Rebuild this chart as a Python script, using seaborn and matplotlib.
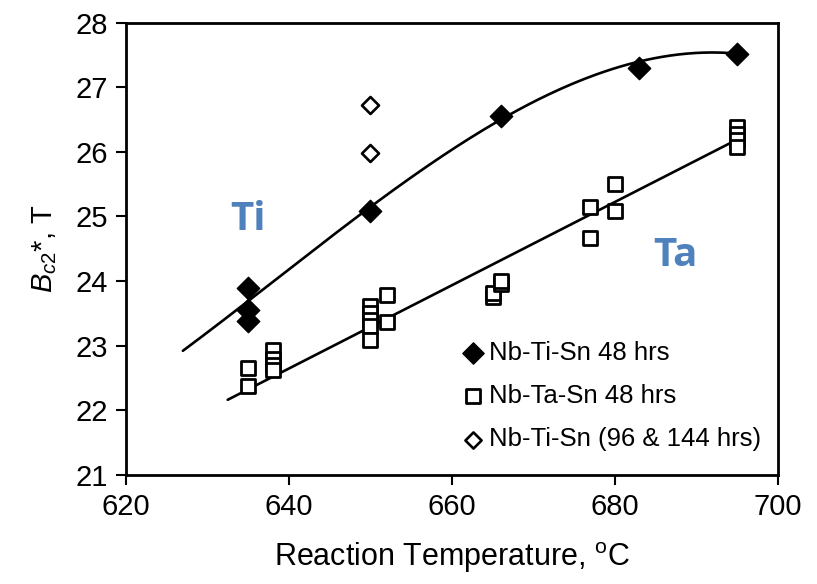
import numpy as np
import pandas as pd
import matplotlib
matplotlib.use("Agg")
import matplotlib.pyplot as plt
import seaborn as sns

# ---- data ----
ti48_T = [635, 635, 635, 650, 666, 683, 695]
ti48_B = [23.90, 23.55, 23.38, 25.08, 26.55, 27.30, 27.52]

ta48_T = [635, 635, 638, 638, 638, 638, 650, 650, 650, 650, 650, 652, 652,
          665, 665, 666, 666, 677, 677, 680, 680, 695, 695, 695, 695]
ta48_B = [22.65, 22.37, 22.94, 22.80, 22.70, 22.62, 23.62, 23.50, 23.40, 23.30, 23.08,
          23.79, 23.36, 23.75, 23.82, 23.95, 24.00, 25.14, 24.66, 25.51, 25.09,
          26.38, 26.28, 26.18, 26.07]

ti_long_T = [650, 650]
ti_long_B = [26.73, 25.98]

# trend curves (fitted below)
ti_trend_T = [627, 635, 650, 666, 683, 688, 695]
ti_trend_B = [22.89, 23.76, 25.07, 26.55, 27.39, 27.50, 27.53]
ta_trend_T = [632.5, 658.5, 695]
ta_trend_B = [22.16, 23.84, 26.19]

series_labels = ["Nb-Ti-Sn 48 hrs", "Nb-Ta-Sn 48 hrs", "Nb-Ti-Sn (96 & 144 hrs)"]
x_ticks = [620, 640, 660, 680, 700]
y_ticks = [21, 22, 23, 24, 25, 26, 27, 28]

sns.set_style("white")
plt.rcParams["font.family"] = ["Liberation Sans", "DejaVu Sans"]
plt.rcParams["mathtext.fontset"] = "custom"
plt.rcParams["mathtext.it"] = "Liberation Sans:italic"
plt.rcParams["mathtext.rm"] = "Liberation Sans"
for k in ["text.color", "axes.labelcolor", "xtick.color", "ytick.color", "axes.edgecolor"]:
    plt.rcParams[k] = "black"

fig = plt.figure(figsize=(8.17, 5.84), dpi=100)
ax = fig.add_axes([0.154, 0.187, 0.798, 0.774])

# trend lines
p_ti = np.polyfit(ti_trend_T, ti_trend_B, 3)
xt = np.linspace(min(ti_trend_T), max(ti_trend_T), 200)
sns.lineplot(x=xt, y=np.polyval(p_ti, xt), ax=ax, color="black", lw=1.9, legend=False)
p_ta = np.polyfit(ta_trend_T, ta_trend_B, 1)
xa = np.linspace(min(ta_trend_T), max(ta_trend_T), 50)
sns.lineplot(x=xa, y=np.polyval(p_ta, xa), ax=ax, color="black", lw=1.9, legend=False)

# points
sns.scatterplot(x=ta48_T, y=ta48_B, ax=ax, marker="s", s=110, facecolor="white",
                edgecolor="black", linewidth=2, label=series_labels[1], zorder=3)
sns.scatterplot(x=ti48_T, y=ti48_B, ax=ax, marker="D", s=130, color="black",
                edgecolor="black", linewidth=1, label=series_labels[0], zorder=4)
sns.scatterplot(x=ti_long_T, y=ti_long_B, ax=ax, marker="D", s=75, facecolor="white",
                edgecolor="black", linewidth=1.9, label=series_labels[2], zorder=4)

ax.set_xlim(620, 700)
ax.set_ylim(21, 28)
ax.set_xticks(x_ticks)
ax.set_yticks(y_ticks)
ax.tick_params(axis="both", direction="out", length=7, width=1.5, labelsize=21,
               left=True, bottom=True, right=False, top=False, pad=6)
for sp in ax.spines.values():
    sp.set_visible(True)
    sp.set_color("black")
    sp.set_linewidth(2)

ax.set_xlabel(r"Reaction Temperature, $^{\mathrm{o}}$C", fontsize=22, labelpad=14)
ax.set_ylabel(r"$B_{c2}$*, T", fontsize=21, labelpad=12)

ax.text(635, 24.95, "Ti", color="#4f81bd", fontsize=29, fontweight="bold",
        ha="center", va="center", fontfamily=["Open Sans", "DejaVu Sans"])
ax.text(687.5, 24.4, "Ta", color="#4f81bd", fontsize=29, fontweight="bold",
        ha="center", va="center", fontfamily=["Open Sans", "DejaVu Sans"])

h, l = ax.get_legend_handles_labels()
order = [l.index(s) for s in series_labels]
ax.legend([h[i] for i in order], [l[i] for i in order], loc="center left",
          bbox_to_anchor=(463 / 817, 1 - 396 / 584), bbox_transform=fig.transFigure,
          frameon=False, fontsize=18.5, borderpad=0, borderaxespad=0,
          handlelength=0.8, handletextpad=0.2, labelspacing=0.75, markerscale=0.95)

fig.savefig("out.png", dpi=100)
